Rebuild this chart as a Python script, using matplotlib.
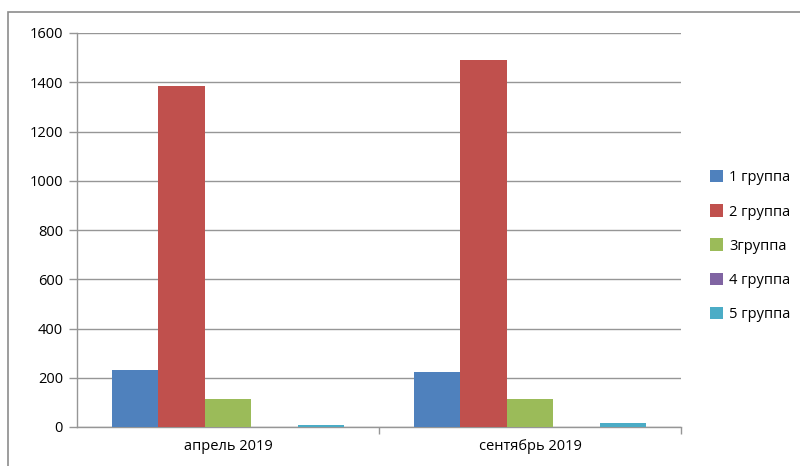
import numpy as np
import matplotlib.pyplot as plt
from matplotlib.patches import Rectangle

plt.rcParams['font.family'] = ['Open Sans', 'DejaVu Sans']

categories = ['апрель 2019', 'сентябрь 2019']
series = ['1 группа', '2 группа', '3группа', '4 группа', '5 группа']
values = [
    [230, 225],
    [1385, 1490],
    [115, 115],
    [0, 0],
    [10, 18],
]
colors = ['#4f81bd', '#c0504d', '#9bbb59', '#8064a2', '#4bacc6']

fig = plt.figure(figsize=(8, 4.66), dpi=100)
ax = fig.add_axes([77 / 800, 1 - 427 / 466, (681 - 77) / 800, (427 - 33) / 466])

# outer chart border
fig.patches.append(Rectangle((8 / 800, -0.05), 1.05, 1 - 12 / 466 + 0.05,
                             transform=fig.transFigure, fill=False,
                             edgecolor='#8c8c8c', linewidth=1.2))

x = np.arange(len(categories))
w = 1 / (len(series) + 1.5)
for i, (name, vals) in enumerate(zip(series, values)):
    ax.bar(x - 2.5 * w + (i + 0.5) * w, vals, width=w, color=colors[i],
           label=name, zorder=3)

ax.set_xlim(-0.5, len(categories) - 0.5)
ax.set_ylim(0, 1600)
ax.set_yticks(range(0, 1601, 200))
ax.yaxis.grid(True, color='#969696', linewidth=1)
ax.set_axisbelow(True)

ax.set_xticks(x)
ax.set_xticklabels(categories, fontsize=10.5)
ax.tick_params(axis='x', length=0, pad=9)
ax.set_xticks([0.5, 1.5], minor=True)
ax.tick_params(axis='x', which='minor', length=5, color='#969696', width=1)
ax.tick_params(axis='y', length=6, color='#969696', width=1, labelsize=10.5, pad=4)

for s in ['top', 'right']:
    ax.spines[s].set_visible(False)
for s in ['left', 'bottom']:
    ax.spines[s].set_color('#969696')
    ax.spines[s].set_linewidth(1)

ax.legend(loc='center left', bbox_to_anchor=(697 / 800, 1 - 246 / 466),
          bbox_transform=fig.transFigure, frameon=False, fontsize=10.5,
          handlelength=0.9, handleheight=0.9, handletextpad=0.4,
          labelspacing=1.3)

fig.savefig('out.png')
